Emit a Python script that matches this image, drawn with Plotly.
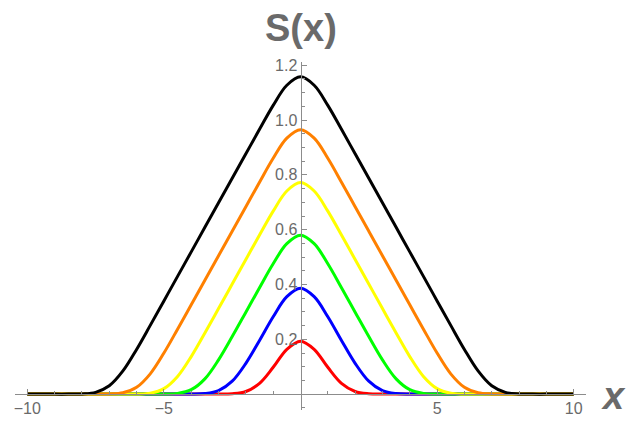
import plotly.graph_objects as go

# abscisses communes
x_vals = [-10.0, -9.5, -9.0, -8.5, -8.0, -7.5, -7.0, -6.5, -6.0, -5.5, -5.0,
          -4.5, -4.0, -3.5, -3.0, -2.5, -2.0, -1.5, -1.0, -0.5, 0.0,
          0.5, 1.0, 1.5, 2.0, 2.5, 3.0, 3.5, 4.0, 4.5, 5.0,
          5.5, 6.0, 6.5, 7.0, 7.5, 8.0, 8.5, 9.0, 9.5, 10.0]

s_red = [0, 0, 0, 0, 0, 0, 0, 0, 0, 0, 0,
         0, 0, 0, 0.0001, 0.0013, 0.0096, 0.0394, 0.0978, 0.1635, 0.1932,
         0.1635, 0.0978, 0.0394, 0.0096, 0.0013, 0.0001, 0, 0, 0, 0,
         0, 0, 0, 0, 0, 0, 0, 0, 0, 0]

s_blue = [0, 0, 0, 0, 0, 0, 0, 0, 0, 0, 0,
          0, 0.0001, 0.0018, 0.0125, 0.0471, 0.1124, 0.1957, 0.2822, 0.3556, 0.3864,
          0.3556, 0.2822, 0.1957, 0.1124, 0.0471, 0.0125, 0.0018, 0.0001, 0, 0,
          0, 0, 0, 0, 0, 0, 0, 0, 0, 0]

s_green = [0, 0, 0, 0, 0, 0, 0, 0, 0, 0, 0.0002,
           0.0026, 0.0161, 0.0556, 0.1249, 0.2099, 0.2989, 0.3882, 0.4755, 0.5489, 0.5797,
           0.5489, 0.4755, 0.3882, 0.2989, 0.2099, 0.1249, 0.0556, 0.0161, 0.0026, 0.0002,
           0, 0, 0, 0, 0, 0, 0, 0, 0, 0]

s_yellow = [0, 0, 0, 0, 0, 0, 0, 0, 0.0003, 0.0035, 0.0199,
            0.0644, 0.1369, 0.2231, 0.3122, 0.4017, 0.4912, 0.5805, 0.6678, 0.7412, 0.7720,
            0.7412, 0.6678, 0.5805, 0.4912, 0.4017, 0.3122, 0.2231, 0.1369, 0.0644, 0.0199,
            0.0035, 0.0003, 0, 0, 0, 0, 0, 0, 0, 0]

s_orange = [0, 0, 0, 0, 0, 0, 0.0005, 0.0048, 0.0248, 0.0740, 0.1498,
            0.2368, 0.3261, 0.4156, 0.5051, 0.5946, 0.6841, 0.7734, 0.8607, 0.9341, 0.9649,
            0.9341, 0.8607, 0.7734, 0.6841, 0.5946, 0.5051, 0.4156, 0.3261, 0.2368, 0.1498,
            0.0740, 0.0248, 0.0048, 0.0005, 0, 0, 0, 0, 0, 0]

s_black = [0, 0, 0, 0, 0.0008, 0.0065, 0.0303, 0.0845, 0.1630, 0.2508, 0.3401,
           0.4296, 0.5191, 0.6086, 0.6981, 0.7876, 0.8771, 0.9664, 1.0537, 1.1271, 1.1579,
           1.1271, 1.0537, 0.9664, 0.8771, 0.7876, 0.6981, 0.6086, 0.5191, 0.4296, 0.3401,
           0.2508, 0.1630, 0.0845, 0.0303, 0.0065, 0.0008, 0, 0, 0, 0]

x_ticks = [-10, -5, 5, 10]
y_ticks = [0.2, 0.4, 0.6, 0.8, 1.0, 1.2]
y_ticktext = ['0.2', '0.4', '0.6', '0.8', '1.0', '1.2']

AXIS_GREY = '#8c8c8c'
LABEL_GREY = '#6a6a6a'

series = [
    (s_red, '#ff0000'),
    (s_blue, '#0000ff'),
    (s_green, '#00ff00'),
    (s_yellow, '#ffff00'),
    (s_orange, '#ff8000'),
    (s_black, '#000000'),
]

fig = go.Figure()
for ys, col in series:
    fig.add_trace(go.Scatter(
        x=x_vals, y=ys, mode='lines',
        line=dict(color=col, width=3, shape='spline', smoothing=1.0),
        showlegend=False, hoverinfo='skip',
    ))

x_range = [-10.45, 10.45]
y_range = [-0.058, 1.212]

# la page a une marge de 8 px : la figure est réduite d'autant
fig.update_layout(
    width=628, height=413,
    margin=dict(l=7, r=50, t=54, b=11),
    plot_bgcolor='#ffffff', paper_bgcolor='#ffffff',
    font=dict(family='Liberation Sans, Arial, sans-serif', color=LABEL_GREY, size=16),
    xaxis=dict(
        range=x_range, anchor='free',
        position=(0 - y_range[0]) / (y_range[1] - y_range[0]),
        showgrid=False, zeroline=False,
        showline=True, linecolor=AXIS_GREY, linewidth=1,
        tickvals=x_ticks, ticks='inside', ticklen=5, tickcolor=AXIS_GREY,
        tickfont=dict(size=16, color=LABEL_GREY),
        minor=dict(tickvals=[-9, -8, -7, -6, -4, -3, -2, -1, 1, 2, 3, 4, 6, 7, 8, 9],
                   ticks='inside', ticklen=3, tickcolor=AXIS_GREY),
        automargin=False, fixedrange=True,
    ),
    yaxis=dict(
        range=y_range, anchor='free',
        position=(0 - x_range[0]) / (x_range[1] - x_range[0]),
        showgrid=False, zeroline=False,
        showline=True, linecolor=AXIS_GREY, linewidth=1,
        tickvals=y_ticks, ticktext=y_ticktext,
        ticks='inside', ticklen=5, tickcolor=AXIS_GREY,
        tickfont=dict(size=16, color=LABEL_GREY),
        minor=dict(tickvals=[-0.05, 0.05, 0.1, 0.15, 0.25, 0.3, 0.35, 0.45, 0.5, 0.55,
                             0.65, 0.7, 0.75, 0.85, 0.9, 0.95, 1.05, 1.1, 1.15],
                   ticks='inside', ticklen=3, tickcolor=AXIS_GREY),
        automargin=False, fixedrange=True,
    ),
    annotations=[
        dict(text='<b>S(x)</b>', xref='paper', yref='paper', x=0.5, y=1,
             yshift=34, xanchor='center', yanchor='middle', showarrow=False,
             font=dict(size=38, color=LABEL_GREY)),
        dict(text='<b><i>x</i></b>', xref='paper', yref='paper', x=1,
             y=(0 - y_range[0]) / (y_range[1] - y_range[0]),
             xshift=27, yshift=-2, xanchor='center', yanchor='middle', showarrow=False,
             font=dict(size=38, color=LABEL_GREY)),
    ],
)

fig.write_html('out.html')
